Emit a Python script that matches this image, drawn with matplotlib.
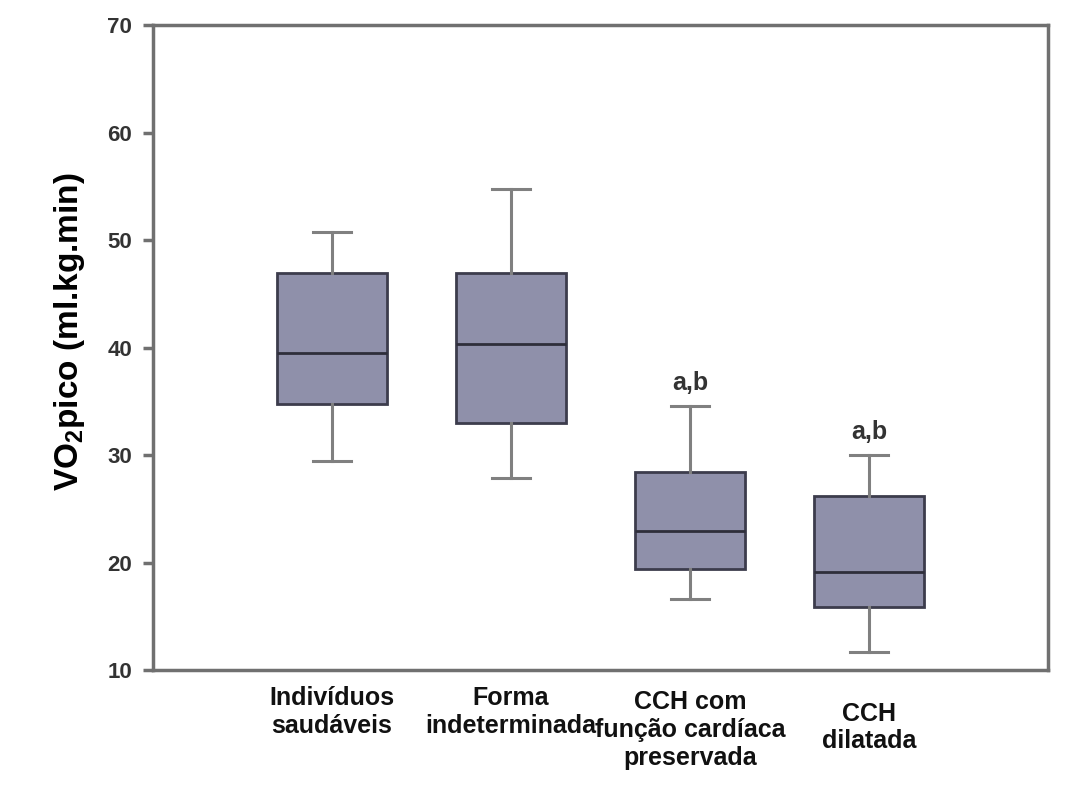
import matplotlib
matplotlib.use("Agg")
import matplotlib.pyplot as plt

# ================= DATA =================

groups = ["Indivíduos\nsaudáveis", "Forma\nindeterminada",
          "CCH com\nfunção cardíaca\npreservada", "CCH\ndilatada"]
whisker_low = [29.4, 27.9, 16.6, 11.7]
q1 = [34.7, 33.0, 19.4, 15.9]
median = [39.5, 40.3, 22.9, 19.1]
q3 = [46.9, 46.9, 28.4, 26.2]
whisker_high = [50.7, 54.7, 34.6, 30.0]
marks = ["", "", "a,b", "a,b"]

label_y = [-0.065, -0.065, -0.093, -0.089]

plt.rcParams['font.family'] = ['Liberation Sans', 'DejaVu Sans']

fig = plt.figure(figsize=(10.8, 7.89), dpi=100)
ax = fig.add_axes([0.1417, 0.1508, 0.8287, 0.8175])

positions = list(range(1, len(groups) + 1))

stats = []
for i in range(len(groups)):
    stats.append({
        "whislo": whisker_low[i],
        "q1": q1[i],
        "med": median[i],
        "q3": q3[i],
        "whishi": whisker_high[i],
        "fliers": [],
    })

ax.bxp(
    stats,
    positions=positions,
    widths=0.61,
    capwidths=0.21,
    patch_artist=True,
    showfliers=False,
    boxprops=dict(facecolor="#8f90aa", edgecolor="#3c3c4c", linewidth=2),
    medianprops=dict(color="#2e2e3a", linewidth=2),
    whiskerprops=dict(color="#808080", linewidth=2.2),
    capprops=dict(color="#808080", linewidth=2.2),
)

# ================= AXES =================

ax.set_xlim(0, 5)
ax.set_ylim(10, 70)
ax.set_yticks([10, 20, 30, 40, 50, 60, 70])
ax.set_xticks([])

for side in ["left", "right", "top", "bottom"]:
    ax.spines[side].set_color("#707070")
    ax.spines[side].set_linewidth(2.5)

ax.tick_params(axis="y", direction="out", length=7, width=2.5,
               color="#707070", labelsize=16, labelcolor="#333333", pad=8)
for lbl in ax.get_yticklabels():
    lbl.set_fontweight("bold")

# category labels under the axis
for i, name in enumerate(groups):
    ax.text(positions[i], label_y[i], name, transform=ax.get_xaxis_transform(),
            ha="center", va="center", fontsize=18, fontweight="bold",
            linespacing=1.2, color="#111111")

# significance marks
for i, m in enumerate(marks):
    if m:
        ax.text(positions[i], whisker_high[i] + 1.45, m, ha="center", va="baseline",
                fontsize=18, fontweight="bold", color="#333333")

fig.text(70 / 1080, 1 - 332 / 789, r"VO$_\mathregular{2}$pico (ml.kg.min)",
         rotation=90, ha="center", va="center", fontsize=24, fontweight="bold")

fig.savefig("out.png", dpi=100)
